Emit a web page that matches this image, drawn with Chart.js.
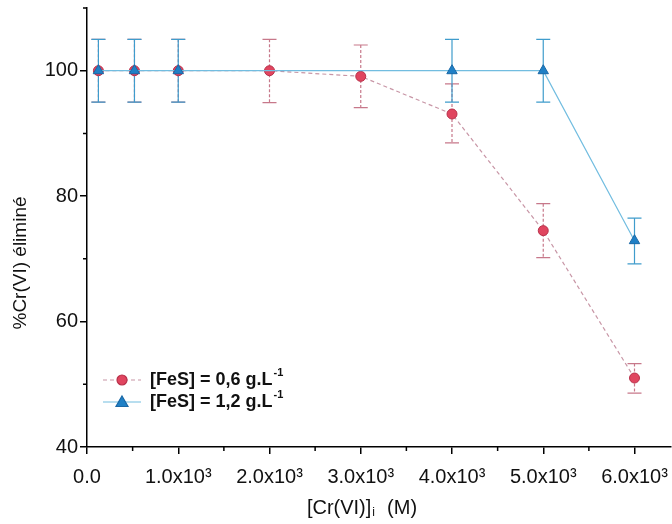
<!DOCTYPE html>
<html>
<head>
<meta charset="utf-8">
<script src="https://cdn.jsdelivr.net/npm/chart.js@4.4.1/dist/chart.umd.min.js"></script>
<style>
  html, body { margin: 0; padding: 0; background: #fff; }
  #wrap { width: 672px; height: 524px; }
</style>
</head>
<body>
<div id="wrap"><canvas id="chart" width="672" height="524"></canvas></div>
<script>
// [FeS] = 0,6 g/L  (red circles)
const xRed = [125, 520, 1000, 2000, 3000, 4000, 5000, 6000];
const yRed = [100, 100, 100, 100, 99.1, 93.1, 74.5, 51.0];
const errRedUp = [5, 5, 5, 5, 5.0, 4.8, 4.3, 2.3];
const errRedDown = [5, 5, 5, 5.1, 5.0, 4.6, 4.3, 2.4];

// [FeS] = 1,2 g/L  (blue triangles)
const xBlue = [125, 520, 1000, 4000, 5000, 6000];
const yBlue = [100, 100, 100, 100, 100, 72.9];
const errBlueUp = [5, 5, 5, 5, 5, 3.6];
const errBlueDown = [5, 5, 5, 5, 5, 3.7];

// axis ticks
const xTickValues = [0, 1000, 2000, 3000, 4000, 5000, 6000];
const xTickLabels = ['0.0', '1.0x10³', '2.0x10³', '3.0x10³', '4.0x10³', '5.0x10³', '6.0x10³'];
const yTickValues = [40, 60, 80, 100];

const legendLabels = ['[FeS] = 0,6 g.L', '[FeS] = 1,2 g.L'];
const xTitle = '[Cr(VI)]';
const yTitle = '%Cr(VI) éliminé';

const FONT = '"Liberation Sans", Arial, sans-serif';
const RED = '#e0455f', RED_EDGE = '#b8304a', RED_LINE = '#c896a6', RED_ERR = '#c7788a';
const BLUE = '#1f80c6', BLUE_EDGE = '#1a68a6', BLUE_LINE = '#72bde0', BLUE_ERR = '#3f9ccc';

function toPoints(xs, ys) {
    return xs.map((x, i) => ({ x: x, y: ys[i] }));
}

function drawErrorBars(ctx, chart, xs, ys, up, down, color, dash) {
    const sx = chart.scales.x, sy = chart.scales.y;
    ctx.save();
    ctx.strokeStyle = color;
    ctx.lineWidth = 1.2;
    xs.forEach((x, i) => {
        const px = sx.getPixelForValue(x);
        const top = sy.getPixelForValue(ys[i] + up[i]);
        const bot = sy.getPixelForValue(ys[i] - down[i]);
        ctx.setLineDash(dash);
        ctx.beginPath();
        ctx.moveTo(px, top);
        ctx.lineTo(px, bot);
        ctx.stroke();
        ctx.setLineDash([]);
        ctx.beginPath();
        ctx.moveTo(px - 7, top); ctx.lineTo(px + 7, top);
        ctx.moveTo(px - 7, bot); ctx.lineTo(px + 7, bot);
        ctx.stroke();
    });
    ctx.restore();
}

function drawSup(ctx, x, y, base, sup, size, weight) {
    ctx.font = weight + ' ' + size + 'px ' + FONT;
    ctx.fillText(base, x, y);
    const w = ctx.measureText(base).width;
    ctx.font = weight + ' ' + Math.round(size * 0.6) + 'px ' + FONT;
    ctx.fillText(sup, x + w + 1, y - size * 0.4);
}

const decorPlugin = {
    id: 'decor',
    beforeDatasetsDraw(chart) {
        const ctx = chart.ctx;
        drawErrorBars(ctx, chart, xRed, yRed, errRedUp, errRedDown, RED_ERR, [3, 2]);
        drawErrorBars(ctx, chart, xBlue, yBlue, errBlueUp, errBlueDown, BLUE_ERR, []);
    },
    afterDraw(chart) {
        const ctx = chart.ctx;
        const sx = chart.scales.x, sy = chart.scales.y;
        const area = chart.chartArea;

        // minor ticks
        ctx.save();
        ctx.strokeStyle = '#000';
        ctx.lineWidth = 1.5;
        ctx.beginPath();
        for (let v = 500; v < 6400; v += 1000) {
            const px = sx.getPixelForValue(v);
            ctx.moveTo(px, area.bottom);
            ctx.lineTo(px, area.bottom + 4);
        }
        for (let v = 50; v <= 110; v += 20) {
            const py = sy.getPixelForValue(v);
            ctx.moveTo(area.left, py);
            ctx.lineTo(area.left - 4, py);
        }
        ctx.stroke();
        ctx.restore();

        // axis titles
        ctx.save();
        ctx.fillStyle = '#111';
        ctx.textBaseline = 'middle';
        ctx.translate(21, 263);
        ctx.rotate(-Math.PI / 2);
        ctx.textAlign = 'center';
        ctx.font = '19px ' + FONT;
        ctx.fillText(yTitle, 0, 0);
        ctx.restore();

        ctx.save();
        ctx.fillStyle = '#111';
        ctx.textBaseline = 'middle';
        ctx.textAlign = 'left';
        ctx.font = '20px ' + FONT;
        const w1 = ctx.measureText(xTitle).width;
        ctx.font = '12px ' + FONT;
        const w2 = ctx.measureText('i').width;
        ctx.font = '20px ' + FONT;
        const w3 = ctx.measureText('  (M)').width;
        let x0 = 362 - (w1 + w2 + 2 + w3) / 2;
        ctx.fillText(xTitle, x0, 508);
        ctx.font = '12px ' + FONT;
        ctx.fillText('i', x0 + w1 + 1, 513);
        ctx.font = '20px ' + FONT;
        ctx.fillText('  (M)', x0 + w1 + w2 + 2, 508);
        ctx.restore();

        // legend
        const rows = [
            { y: 380, line: RED_LINE, dash: [4, 3], fill: RED, edge: RED_EDGE, shape: 'circle' },
            { y: 402, line: BLUE_LINE, dash: [], fill: BLUE, edge: BLUE_EDGE, shape: 'triangle' }
        ];
        rows.forEach((r, i) => {
            ctx.save();
            ctx.strokeStyle = r.line;
            ctx.lineWidth = 1.2;
            ctx.setLineDash(r.dash);
            ctx.beginPath();
            ctx.moveTo(103, r.y);
            ctx.lineTo(141, r.y);
            ctx.stroke();
            ctx.setLineDash([]);
            ctx.fillStyle = r.fill;
            ctx.strokeStyle = r.edge;
            ctx.beginPath();
            if (r.shape === 'circle') {
                ctx.arc(122, r.y, 5, 0, Math.PI * 2);
            } else {
                ctx.moveTo(122, r.y - 6);
                ctx.lineTo(128, r.y + 4.5);
                ctx.lineTo(116, r.y + 4.5);
                ctx.closePath();
            }
            ctx.fill();
            ctx.stroke();
            ctx.fillStyle = '#111';
            ctx.textBaseline = 'middle';
            ctx.textAlign = 'left';
            drawSup(ctx, 150, r.y, legendLabels[i], '-1', 18, 'bold');
            ctx.restore();
        });
    }
};

new Chart(document.getElementById('chart'), {
    type: 'scatter',
    data: {
        datasets: [
            {
                label: legendLabels[0],
                data: toPoints(xRed, yRed),
                showLine: true,
                borderColor: RED_LINE,
                borderWidth: 1.2,
                borderDash: [4, 3],
                pointStyle: 'circle',
                pointRadius: 5,
                pointBackgroundColor: RED,
                pointBorderColor: RED_EDGE,
                pointBorderWidth: 1,
                order: 1
            },
            {
                label: legendLabels[1],
                data: toPoints(xBlue, yBlue),
                showLine: true,
                borderColor: BLUE_LINE,
                borderWidth: 1.2,
                pointStyle: 'triangle',
                pointRadius: 6,
                pointBackgroundColor: BLUE,
                pointBorderColor: BLUE_EDGE,
                pointBorderWidth: 1,
                order: 0
            }
        ]
    },
    options: {
        responsive: false,
        animation: false,
        layout: { autoPadding: false, padding: { top: 8, right: 1, left: 0, bottom: 0 } },
        plugins: {
            legend: { display: false },
            tooltip: { enabled: false }
        },
        scales: {
            x: {
                type: 'linear',
                min: 0,
                max: 6400,
                afterFit(scale) {
                    scale.height = 77;
                    scale.paddingLeft = 0;
                    scale.paddingRight = 0;
                },
                afterBuildTicks(scale) { scale.ticks = xTickValues.map(v => ({ value: v })); },
                border: { color: '#000', width: 1.5 },
                grid: { drawOnChartArea: false, drawTicks: true, tickLength: 7, color: '#000', lineWidth: 1.5 },
                ticks: {
                    autoSkip: false,
                    maxRotation: 0,
                    padding: 11,
                    color: '#111',
                    font: { family: FONT, size: 20 },
                    callback: function(v) {
                        const i = xTickValues.indexOf(v);
                        return i >= 0 ? xTickLabels[i] : '';
                    }
                }
            },
            y: {
                min: 40,
                max: 110,
                afterFit(scale) {
                    scale.width = 87;
                    scale.paddingTop = 0;
                    scale.paddingBottom = 0;
                },
                afterBuildTicks(scale) { scale.ticks = yTickValues.map(v => ({ value: v })); },
                border: { color: '#000', width: 1.5 },
                grid: { drawOnChartArea: false, drawTicks: true, tickLength: 7, color: '#000', lineWidth: 1.5 },
                ticks: {
                    autoSkip: false,
                    padding: 2,
                    color: '#111',
                    font: { family: FONT, size: 20 },
                    callback: function(v) { return String(v); }
                }
            }
        }
    },
    plugins: [decorPlugin]
});
</script>
</body>
</html>
